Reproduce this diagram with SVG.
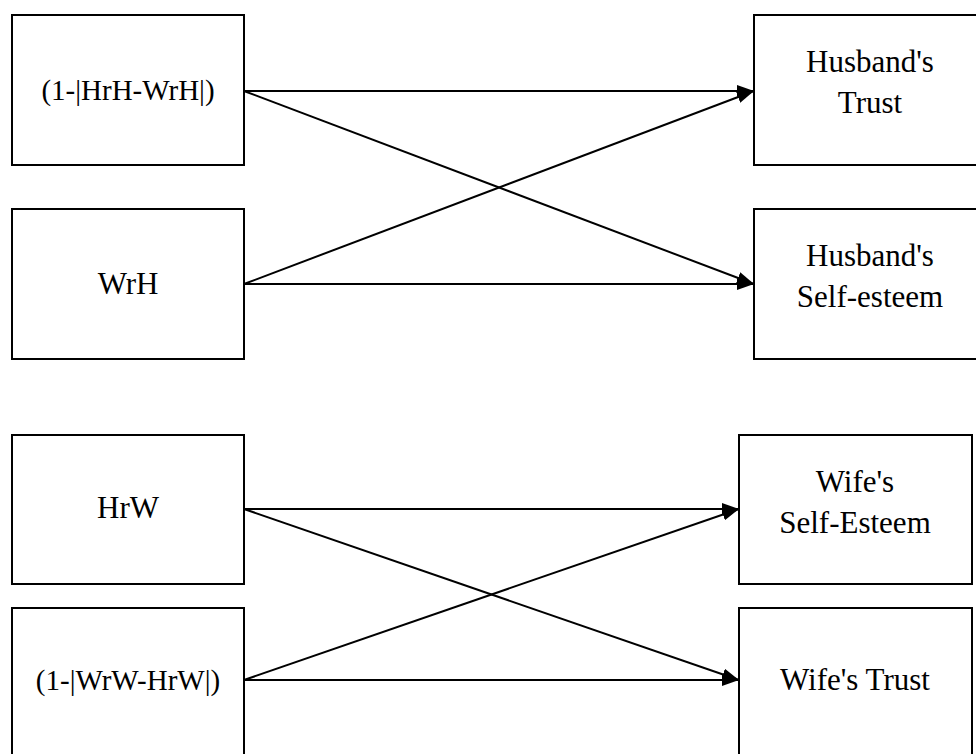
<svg xmlns="http://www.w3.org/2000/svg" width="976" height="754" viewBox="0 0 976 754">
<style>
.box{fill:#fff;stroke:#000;stroke-width:2}
.lbl{font-family:"Liberation Serif","Times New Roman",serif;font-size:29px;fill:#000;text-anchor:middle}
.rl{font-size:31px}
.edge{stroke:#000;stroke-width:2;fill:none;marker-end:url(#arr)}
</style>
<defs>
<marker id="arr" viewBox="0 0 17 12" refX="17" refY="6" markerWidth="17" markerHeight="12" markerUnits="userSpaceOnUse" orient="auto">
<path d="M0,0 L17,6 L0,12 z" fill="#000"/>
</marker>
</defs>
<g id="n1"><rect class="box" x="12" y="15" width="232" height="150"/><text class="lbl" x="128" y="100">(1-|HrH-WrH|)</text></g>
<g id="n2"><rect class="box" x="12" y="209" width="232" height="150"/><text class="lbl rl" x="128" y="294">WrH</text></g>
<g id="n3"><rect class="box" x="754" y="15" width="234" height="150"/><text class="lbl rl" x="870" y="72">Husband's</text><text class="lbl rl" x="870" y="113">Trust</text></g>
<g id="n4"><rect class="box" x="754" y="209" width="234" height="150"/><text class="lbl rl" x="870" y="266">Husband's</text><text class="lbl rl" x="870" y="307">Self-esteem</text></g>
<g id="n5"><rect class="box" x="12" y="435" width="232" height="149"/><text class="lbl rl" x="128" y="518">HrW</text></g>
<g id="n6"><rect class="box" x="12" y="608" width="232" height="150"/><text class="lbl" x="128" y="690">(1-|WrW-HrW|)</text></g>
<g id="n7"><rect class="box" x="739" y="435" width="233" height="149"/><text class="lbl rl" x="855" y="492">Wife's</text><text class="lbl rl" x="855" y="533">Self-Esteem</text></g>
<g id="n8"><rect class="box" x="739" y="608" width="233" height="150"/><text class="lbl rl" x="855" y="690">Wife's Trust</text></g>
<g id="edges">
<line class="edge" x1="244" y1="91" x2="754" y2="91"/>
<line class="edge" x1="244" y1="91" x2="754" y2="284"/>
<line class="edge" x1="244" y1="284" x2="754" y2="284"/>
<line class="edge" x1="244" y1="284" x2="754" y2="91"/>
<line class="edge" x1="244" y1="509" x2="739" y2="509"/>
<line class="edge" x1="244" y1="509" x2="739" y2="680"/>
<line class="edge" x1="244" y1="680" x2="739" y2="680"/>
<line class="edge" x1="244" y1="680" x2="739" y2="509"/>
</g>
</svg>
